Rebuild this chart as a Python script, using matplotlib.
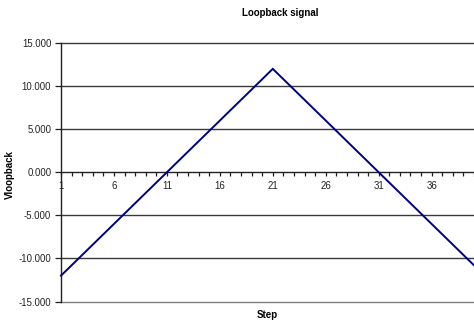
import matplotlib.pyplot as plt
from matplotlib.ticker import MultipleLocator, FuncFormatter

# Loopback voltage per step: ramps up to the peak at step 21, then back down
steps = list(range(1, 41))
vloopback = [-12.0, -10.8, -9.6, -8.4, -7.2, -6.0, -4.8, -3.6, -2.4, -1.2,
             0.0, 1.2, 2.4, 3.6, 4.8, 6.0, 7.2, 8.4, 9.6, 10.8,
             12.0, 10.8, 9.6, 8.4, 7.2, 6.0, 4.8, 3.6, 2.4, 1.2,
             0.0, -1.2, -2.4, -3.6, -4.8, -6.0, -7.2, -8.4, -9.6, -10.8]
x_labels = [1, 6, 11, 16, 21, 26, 31, 36]
y_ticks = [-15, -10, -5, 0, 5, 10, 15]

plt.rcParams['font.family'] = ['Liberation Sans', 'DejaVu Sans']
plt.rcParams['font.size'] = 6.9

fig = plt.figure(figsize=(4.74, 3.21), dpi=100)
ax = fig.add_axes([61 / 474, 1 - 301.5 / 321, 413 / 474, (301.5 - 43) / 321])

ax.plot(steps, vloopback, color='#000080', linewidth=1.4, solid_joinstyle='miter',
        clip_on=False, zorder=3)

ax.set_xlim(1, 40)
ax.set_ylim(-15, 15)

# horizontal gridlines at every major y value
for v in y_ticks:
    if v != 0:
        ax.axhline(v, color='#3a3a3a' if v != -15 else '#808080', linewidth=1.0,
                   zorder=1, clip_on=False)

ax.set_yticks(y_ticks)
ax.yaxis.set_major_formatter(FuncFormatter(lambda v, p: f'{v:.3f}'))
ax.tick_params(axis='y', direction='out', length=4, width=0.9, pad=3, colors='#222222')

# category axis sits on the zero line
ax.spines['bottom'].set_position(('data', 0))
ax.spines['bottom'].set_color('#222222')
ax.spines['bottom'].set_linewidth(1.0)
ax.spines['left'].set_color('#222222')
ax.spines['left'].set_linewidth(1.0)
ax.spines['top'].set_visible(False)
ax.spines['right'].set_visible(False)

ax.set_xticks(x_labels)
ax.set_xticklabels([str(s) for s in x_labels])
ax.xaxis.set_minor_locator(MultipleLocator(1))
ax.tick_params(axis='x', which='both', direction='out', length=3, width=0.9,
               pad=3, colors='#222222')

fig.text(280 / 474, 1 - 13 / 321, 'Loopback signal', ha='center', va='center',
         fontweight='bold', fontsize=7)
fig.text(267 / 474, 1 - 315 / 321, 'Step', ha='center', va='center',
         fontweight='bold', fontsize=7)
fig.text(10 / 474, 1 - 175 / 321, 'Vloopback', ha='center', va='center',
         rotation=90, fontweight='bold', fontsize=7)

fig.savefig('out.png', dpi=100, facecolor='white')
